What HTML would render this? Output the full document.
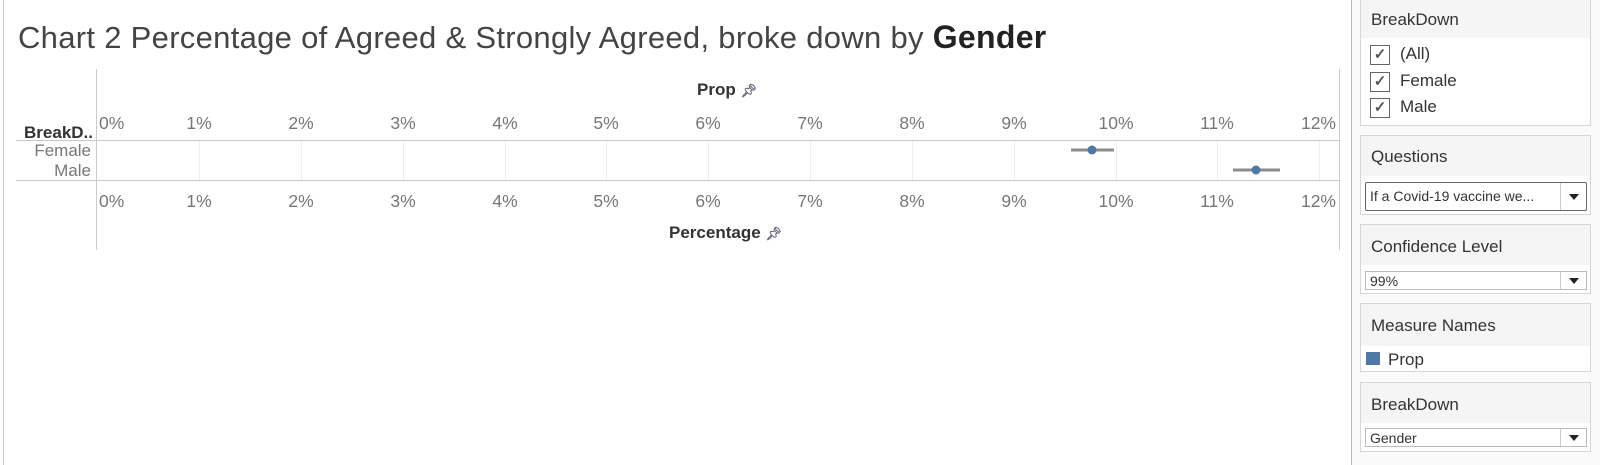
<!DOCTYPE html>
<html><head><meta charset="utf-8"><style>
body{margin:0;width:1600px;height:465px;background:#fff;position:relative;overflow:hidden;font-family:"Liberation Sans",sans-serif}
div,span{position:absolute}
.t{font-size:17px;color:#777;white-space:nowrap;line-height:19px}
.p{left:1360px;width:231px;border:1px solid #d6d6d6;background:#fff;box-sizing:border-box}
.h{left:0;right:0;top:0;background:#f5f5f5;font-size:17px;color:#333;padding-left:10px;box-sizing:border-box}
.dd{left:4px;width:222px;border:1px solid #bbb;box-sizing:border-box;background:#fff;font-size:14px;color:#333;padding-left:4px;overflow:hidden;white-space:nowrap}
.dd i{position:absolute;right:0;top:0;bottom:0;width:25px;border-left:1px solid #ccc}
.dd i:after{content:"";position:absolute;left:8px;top:50%;margin-top:-3px;border-left:5px solid transparent;border-right:5px solid transparent;border-top:6px solid #222}
.cb{left:9px;width:20px;height:20px;border:1px solid #666;box-sizing:border-box;font-size:15px;text-align:center;line-height:18px;color:#555;font-weight:bold}
.cl{left:39px;font-size:17px;color:#333}
</style></head><body>
<div style="left:3px;top:0;width:1px;height:465px;background:#ccc"></div>
<div style="left:1351px;top:0;width:1px;height:465px;background:#bbb"></div>
<div style="left:1352px;top:0;width:248px;height:465px;background:#fafafa"></div>

<div style="left:18px;top:19px;font-size:31px;color:#444;white-space:nowrap;letter-spacing:0.3px">Chart 2 Percentage of Agreed &amp; Strongly Agreed, broke down by <b style="font-size:32px;color:#222">Gender</b></div>

<div style="left:96px;top:69px;width:1px;height:181px;background:#ccc"></div>
<div style="left:1339px;top:69px;width:1px;height:181px;background:#ccc"></div>
<div style="left:16px;top:140px;width:1324px;height:1px;background:#c8c8c8"></div>
<div style="left:16px;top:180px;width:1324px;height:1px;background:#c8c8c8"></div>

<div style="left:0;top:123px;width:93px;text-align:right;font-size:17px;font-weight:bold;color:#333">BreakD..</div>
<div class="t" style="left:0;top:141px;width:91px;text-align:right">Female</div>
<div class="t" style="left:0;top:161px;width:91px;text-align:right">Male</div>

<div style="left:697px;top:80px;font-size:17px;font-weight:bold;color:#333">Prop <span style="position:relative;color:#667;font-size:13px">&#x1F4CC;&#xFE0E;</span></div>
<div style="left:669px;top:223px;font-size:17px;font-weight:bold;color:#333">Percentage <span style="position:relative;color:#667;font-size:13px">&#x1F4CC;&#xFE0E;</span></div>

<svg style="position:absolute;left:0;top:0" width="1350" height="465">
<g stroke="#eee" stroke-width="1">
<line x1="199.5" y1="141" x2="199.5" y2="180"/><line x1="301.5" y1="141" x2="301.5" y2="180"/><line x1="403.5" y1="141" x2="403.5" y2="180"/><line x1="505.5" y1="141" x2="505.5" y2="180"/><line x1="606.5" y1="141" x2="606.5" y2="180"/><line x1="708.5" y1="141" x2="708.5" y2="180"/><line x1="810.5" y1="141" x2="810.5" y2="180"/><line x1="912.5" y1="141" x2="912.5" y2="180"/><line x1="1014.5" y1="141" x2="1014.5" y2="180"/><line x1="1116.5" y1="141" x2="1116.5" y2="180"/><line x1="1217.5" y1="141" x2="1217.5" y2="180"/><line x1="1319.5" y1="141" x2="1319.5" y2="180"/>
</g>
<g font-family="Liberation Sans" font-size="17.5" fill="#777">
<g>
<text x="99" y="129">0%</text>
<text x="199" y="129" text-anchor="middle">1%</text>
<text x="301" y="129" text-anchor="middle">2%</text>
<text x="403" y="129" text-anchor="middle">3%</text>
<text x="505" y="129" text-anchor="middle">4%</text>
<text x="606" y="129" text-anchor="middle">5%</text>
<text x="708" y="129" text-anchor="middle">6%</text>
<text x="810" y="129" text-anchor="middle">7%</text>
<text x="912" y="129" text-anchor="middle">8%</text>
<text x="1014" y="129" text-anchor="middle">9%</text>
<text x="1116" y="129" text-anchor="middle">10%</text>
<text x="1217" y="129" text-anchor="middle">11%</text>
<text x="1336" y="129" text-anchor="end">12%</text>
</g>
<g transform="translate(0,78)">
<text x="99" y="129">0%</text>
<text x="199" y="129" text-anchor="middle">1%</text>
<text x="301" y="129" text-anchor="middle">2%</text>
<text x="403" y="129" text-anchor="middle">3%</text>
<text x="505" y="129" text-anchor="middle">4%</text>
<text x="606" y="129" text-anchor="middle">5%</text>
<text x="708" y="129" text-anchor="middle">6%</text>
<text x="810" y="129" text-anchor="middle">7%</text>
<text x="912" y="129" text-anchor="middle">8%</text>
<text x="1014" y="129" text-anchor="middle">9%</text>
<text x="1116" y="129" text-anchor="middle">10%</text>
<text x="1217" y="129" text-anchor="middle">11%</text>
<text x="1336" y="129" text-anchor="end">12%</text>
</g>
</g>
<g stroke="#8c8c8c" stroke-width="3">
<line x1="1071" y1="150" x2="1114" y2="150"/>
<line x1="1233" y1="170" x2="1280" y2="170"/>
</g>
<circle cx="1092" cy="150" r="4.5" fill="#4e79a7"/>
<circle cx="1256" cy="170" r="4.5" fill="#4e79a7"/>
</svg>

<div class="p" style="top:-1px;height:127px">
<div class="h" style="height:38px;line-height:40px">BreakDown</div>
<div class="cb" style="top:45px">✓</div><div class="cl" style="top:44px">(All)</div>
<div class="cb" style="top:72px">✓</div><div class="cl" style="top:71px">Female</div>
<div class="cb" style="top:98px">✓</div><div class="cl" style="top:97px">Male</div>
</div>
<div class="p" style="top:135px;height:80px">
<div class="h" style="height:40px;line-height:42px">Questions</div>
<div class="dd" style="top:46px;height:29px;line-height:27px;border-color:#666;border-radius:2px">If a Covid-19 vaccine we...<i></i></div>
</div>
<div class="p" style="top:224px;height:70px">
<div class="h" style="height:40px;line-height:44px">Confidence Level</div>
<div class="dd" style="top:46px;height:19px;line-height:18px">99%<i></i></div>
</div>
<div class="p" style="top:303px;height:69px">
<div class="h" style="height:42px;line-height:44px">Measure Names</div>
<div style="left:5px;top:48px;width:14px;height:13px;background:#4e79a7"></div>
<div style="left:27px;top:46px;font-size:17px;color:#333">Prop</div>
</div>
<div class="p" style="top:382px;height:70px">
<div class="h" style="height:40px;line-height:44px">BreakDown</div>
<div class="dd" style="top:45px;height:19px;line-height:18px">Gender<i></i></div>
</div>
</body></html>
